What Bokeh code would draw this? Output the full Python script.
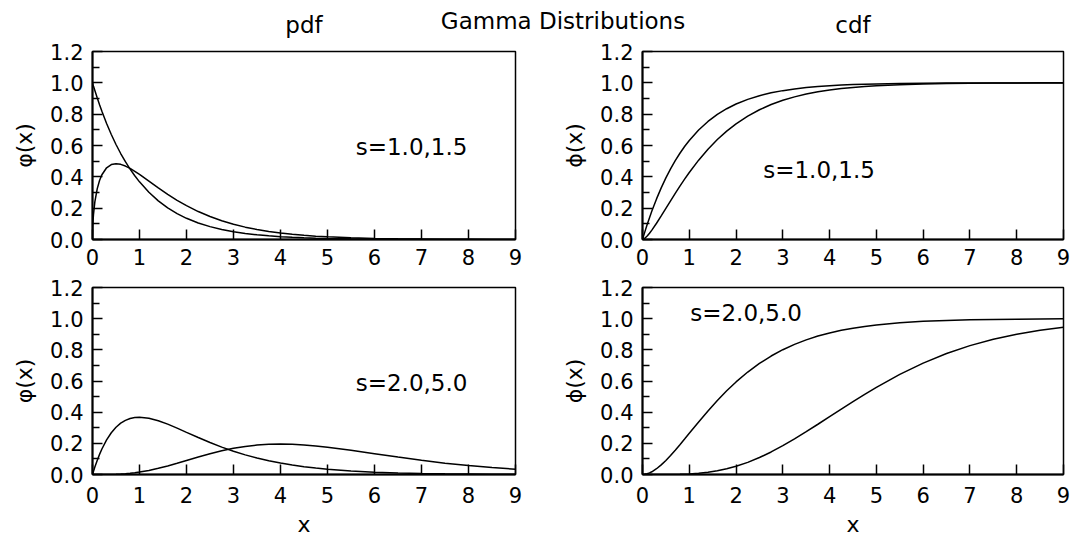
from bokeh.plotting import figure
from bokeh.layouts import column, row
from bokeh.models import Label, FixedTicker, Range1d, PrintfTickFormatter
from bokeh.embed import file_html
from bokeh.resources import INLINE

# ---------------- data ----------------
X = [0, 0.005, 0.01, 0.02, 0.05, 0.1, 0.15, 0.2, 0.3, 0.4, 0.5, 0.6, 0.7, 0.8, 0.9, 1.0,
     1.2, 1.4, 1.6, 1.8, 2.0, 2.25, 2.5, 2.75, 3.0, 3.25, 3.5, 3.75, 4.0, 4.25, 4.5, 4.75,
     5.0, 5.5, 6.0, 6.5, 7.0, 7.5, 8.0, 8.5, 9.0]

pdf_s10 = [1.0, 0.99501, 0.99005, 0.98020, 0.95123, 0.90484, 0.86071, 0.81873, 0.74082, 0.67032,
           0.60653, 0.54881, 0.49659, 0.44933, 0.40657, 0.36788, 0.30119, 0.24660, 0.20190, 0.16530,
           0.13534, 0.10540, 0.08208, 0.06393, 0.04979, 0.03877, 0.03020, 0.02352, 0.01832, 0.01426,
           0.01111, 0.00865, 0.00674, 0.00409, 0.00248, 0.00150, 0.00091, 0.00055, 0.00034, 0.00020,
           0.00012]
pdf_s15 = [0.0, 0.07940, 0.11172, 0.15642, 0.24001, 0.32287, 0.37615, 0.41315, 0.45785, 0.47838,
           0.48394, 0.47968, 0.46881, 0.45349, 0.43522, 0.41511, 0.37230, 0.32924, 0.28817, 0.25024,
           0.21597, 0.17840, 0.14645, 0.11962, 0.09730, 0.07887, 0.06375, 0.05139, 0.04134, 0.03318,
           0.02659, 0.02128, 0.01700, 0.01082, 0.00685, 0.00432, 0.00272, 0.00171, 0.00107, 0.00067,
           0.00042]
cdf_s10 = [0.0, 0.00499, 0.00995, 0.01980, 0.04877, 0.09516, 0.13929, 0.18127, 0.25918, 0.32968,
           0.39347, 0.45119, 0.50341, 0.55067, 0.59343, 0.63212, 0.69881, 0.75340, 0.79810, 0.83470,
           0.86466, 0.89460, 0.91792, 0.93607, 0.95021, 0.96123, 0.96980, 0.97648, 0.98168, 0.98574,
           0.98889, 0.99135, 0.99326, 0.99591, 0.99752, 0.99850, 0.99909, 0.99945, 0.99966, 0.99980,
           0.99988]
cdf_s15 = [0.0, 0.00027, 0.00075, 0.00210, 0.00816, 0.02241, 0.03997, 0.05976, 0.10357, 0.15053,
           0.19875, 0.24700, 0.29447, 0.34061, 0.38507, 0.42759, 0.50637, 0.57650, 0.63819, 0.69198,
           0.73853, 0.78771, 0.82820, 0.86136, 0.88839, 0.91034, 0.92810, 0.94244, 0.95398, 0.96327,
           0.97071, 0.97667, 0.98143, 0.98827, 0.99262, 0.99537, 0.99710, 0.99818, 0.99887, 0.99929,
           0.99956]
pdf_s20 = [0.0, 0.00498, 0.00990, 0.01960, 0.04756, 0.09048, 0.12911, 0.16375, 0.22225, 0.26813,
           0.30327, 0.32929, 0.34761, 0.35946, 0.36591, 0.36788, 0.36143, 0.34524, 0.32304, 0.29754,
           0.27067, 0.23715, 0.20521, 0.17580, 0.14936, 0.12602, 0.10569, 0.08819, 0.07326, 0.06062,
           0.04999, 0.04110, 0.03369, 0.02248, 0.01487, 0.00977, 0.00638, 0.00415, 0.00268, 0.00173,
           0.00111]
pdf_s50 = [0.0, 0.0, 0.0, 0.0, 0.0, 0.0, 0.00002, 0.00005, 0.00025, 0.00072,
           0.00158, 0.00296, 0.00497, 0.00767, 0.01112, 0.01533, 0.02602, 0.03947, 0.05513, 0.07230,
           0.09022, 0.11255, 0.13360, 0.15234, 0.16803, 0.18025, 0.18881, 0.19378, 0.19537, 0.19390,
           0.18981, 0.18352, 0.17547, 0.15582, 0.13385, 0.11182, 0.09123, 0.07292, 0.05725, 0.04426,
           0.03374]
cdf_s20 = [0.0, 0.00001, 0.00005, 0.00020, 0.00121, 0.00468, 0.01019, 0.01752, 0.03694, 0.06155,
           0.09020, 0.12190, 0.15581, 0.19121, 0.22752, 0.26424, 0.33737, 0.40817, 0.47507, 0.53716,
           0.59399, 0.65745, 0.71270, 0.76027, 0.80085, 0.83521, 0.86411, 0.88829, 0.90842, 0.92511,
           0.93890, 0.95025, 0.95957, 0.97343, 0.98265, 0.98872, 0.99270, 0.99530, 0.99698, 0.99807,
           0.99877]
cdf_s50 = [0.0, 0.0, 0.0, 0.0, 0.0, 0.0, 0.0, 0.0, 0.00002, 0.00006,
           0.00017, 0.00039, 0.00079, 0.00141, 0.00234, 0.00366, 0.00775, 0.01425, 0.02368, 0.03641,
           0.05265, 0.07802, 0.10882, 0.14462, 0.18474, 0.22835, 0.27456, 0.32244, 0.37115, 0.41989,
           0.46790, 0.51459, 0.55950, 0.64248, 0.71494, 0.77633, 0.82701, 0.86794, 0.90037, 0.92564,
           0.94504]

X_TICKS = [0, 1, 2, 3, 4, 5, 6, 7, 8, 9]
Y_TICKS = [0.0, 0.2, 0.4, 0.6, 0.8, 1.0, 1.2]
Y_MINOR = [0.1, 0.3, 0.5, 0.7, 0.9, 1.1]

TITLE = "Gamma Distributions"
COL_TITLES = ["pdf", "cdf"]
Y_LABELS = ["φ(x)", "ϕ(x)"]
X_LABEL = "x"
NOTES = ["s=1.0,1.5", "s=2.0,5.0"]

# ---------------- styling ----------------
FONT = "DejaVu Sans"
TICK_FS = "21px"
TEXT_FS = "23px"


def make_panel(left, right, top, bottom, fw, fh, ylabel, xlabel, curves, note, nx, ny, xstand):
    p = figure(frame_width=fw, frame_height=fh, x_range=Range1d(0, 9), y_range=Range1d(0, 1.2),
               output_backend="svg", toolbar_location=None, title=None,
               min_border_left=left, min_border_right=right,
               min_border_top=top, min_border_bottom=bottom)
    p.grid.visible = False
    p.outline_line_color = "black"
    p.outline_line_width = 1.5
    p.background_fill_color = "white"
    p.border_fill_color = "white"
    xa = p.xaxis[0]
    ya = p.yaxis[0]
    xa.ticker = FixedTicker(ticks=X_TICKS, minor_ticks=[])
    ya.ticker = FixedTicker(ticks=Y_TICKS, minor_ticks=Y_MINOR)
    ya.formatter = PrintfTickFormatter(format="%.1f")
    for ax in (xa, ya):
        ax.axis_line_color = "black"
        ax.axis_line_width = 2
        ax.major_tick_in = 10
        ax.major_tick_out = 0
        ax.minor_tick_in = 7
        ax.minor_tick_out = 0
        ax.major_tick_line_color = "black"
        ax.minor_tick_line_color = "black"
        ax.major_tick_line_width = 1.5
        ax.minor_tick_line_width = 1.5
        ax.major_label_text_font = FONT
        ax.major_label_text_font_size = TICK_FS
        ax.major_label_text_color = "black"
        ax.axis_label_text_font = FONT
        ax.axis_label_text_font_size = "22px"
        ax.axis_label_text_font_style = "normal"
        ax.axis_label_text_color = "black"
    xa.major_label_standoff = xstand
    ya.major_label_standoff = 9
    ya.axis_label = ylabel
    ya.axis_label_standoff = 10
    if xlabel:
        xa.axis_label = xlabel
        xa.axis_label_standoff = 6
    for ys in curves:
        p.line(X, ys, line_color="black", line_width=1.5)
    p.add_layout(Label(x=nx, y=ny, text=note, text_font=FONT, text_font_size=TEXT_FS,
                       text_color="black", text_baseline="middle", text_align="left"))
    return p


W_TOTAL = 1071
STRIP_H = 38
strip = figure(width=W_TOTAL, height=STRIP_H, x_range=Range1d(0, W_TOTAL), y_range=Range1d(0, STRIP_H),
               output_backend="svg", toolbar_location=None, title=None,
               x_axis_type=None, y_axis_type=None,
               min_border_left=0, min_border_right=0, min_border_top=0, min_border_bottom=0)
strip.outline_line_color = None
strip.grid.visible = False
strip.add_layout(Label(x=562.5, y=STRIP_H - 20, text=TITLE,
                       text_font=FONT, text_font_size=TEXT_FS, text_align="center",
                       text_baseline="middle", text_color="black"))
strip.add_layout(Label(x=303.5, y=STRIP_H - 24.5, text=COL_TITLES[0],
                       text_font=FONT, text_font_size=TEXT_FS, text_align="center",
                       text_baseline="middle", text_color="black"))
strip.add_layout(Label(x=852.5, y=STRIP_H - 24.5, text=COL_TITLES[1],
                       text_font=FONT, text_font_size=TEXT_FS, text_align="center",
                       text_baseline="middle", text_color="black"))

p1 = make_panel(92, 20, 13, 35, 423, 188, Y_LABELS[0], None, [pdf_s10, pdf_s15], NOTES[0], 5.6, 0.59, 9)
p2 = make_panel(107, 8, 13, 35, 421, 188, Y_LABELS[1], None, [cdf_s10, cdf_s15], NOTES[0], 2.58, 0.444, 9)
p3 = make_panel(92, 20, 13, 65, 423, 187, Y_LABELS[0], X_LABEL, [pdf_s20, pdf_s50], NOTES[1], 5.6, 0.587, 12)
p4 = make_panel(107, 8, 13, 65, 421, 187, Y_LABELS[1], X_LABEL, [cdf_s20, cdf_s50], NOTES[1], 1.02, 1.034, 12)

layout = column(strip, row(p1, p2), row(p3, p4))

with open("out.html", "w") as f:
    f.write(file_html(layout, INLINE))
